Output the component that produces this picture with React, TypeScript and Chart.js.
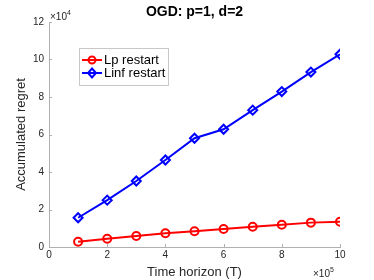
import React, { useEffect, useRef } from "react";
import { Chart, registerables } from "chart.js";

Chart.register(...registerables);

const horizons = [100000, 200000, 300000, 400000, 500000, 600000, 700000, 800000, 900000, 1000000];
const lpRestart = [2800, 4400, 5900, 7300, 8400, 9600, 10800, 11900, 13000, 13500];
const linfRestart = [15600, 25000, 35200, 46400, 58000, 62800, 73000, 82900, 93300, 102800];
const titleText = "OGD: p=1, d=2";
const xTitle = "Time horizon (T)";
const yTitle = "Accumulated regret";
const seriesNames = ["Lp restart", "Linf restart"];

const FONT = "'Liberation Sans', Arial, Helvetica, sans-serif";
const TEXT = "#262626";
const AXIS = "#b0b0b0";

const decorPlugin = {
  id: "decor",
  afterDraw(chart: any) {
    const ctx = chart.ctx;
    const area = chart.chartArea;
    const xs = chart.scales.x;
    const ys = chart.scales.y;
    ctx.save();
    // inward ticks
    ctx.strokeStyle = AXIS;
    ctx.lineWidth = 1;
    ctx.beginPath();
    xs.ticks.forEach((t: any) => {
      const px = Math.round(xs.getPixelForValue(t.value)) + 0.5;
      ctx.moveTo(px, area.bottom);
      ctx.lineTo(px, area.bottom - 3);
    });
    ys.ticks.forEach((t: any) => {
      const py = Math.round(ys.getPixelForValue(t.value)) + 0.5;
      ctx.moveTo(area.left, py);
      ctx.lineTo(area.left + 3, py);
    });
    ctx.stroke();

    // title
    ctx.fillStyle = "#000";
    ctx.font = `bold 14px ${FONT}`;
    ctx.textAlign = "center";
    ctx.textBaseline = "middle";
    ctx.fillText(titleText, (area.left + area.right) / 2, 12);

    // exponents
    ctx.fillStyle = TEXT;
    ctx.textAlign = "left";
    ctx.textBaseline = "alphabetic";
    ctx.font = `10px ${FONT}`;
    ctx.fillText("\u00d710", area.left + 1, 20);
    let w = ctx.measureText("\u00d710").width;
    ctx.font = `7px ${FONT}`;
    ctx.fillText("4", area.left + 1 + w, 15);
    ctx.font = `10px ${FONT}`;
    const ex = area.right - 27;
    ctx.fillText("\u00d710", ex, 277);
    w = ctx.measureText("\u00d710").width;
    ctx.font = `7px ${FONT}`;
    ctx.fillText("5", ex + w, 272);

    // legend
    const bx = 79.5, by = 48.5, bw = 89, bh = 37;
    ctx.fillStyle = "#fff";
    ctx.fillRect(bx, by, bw, bh);
    ctx.strokeStyle = "#c8c8c8";
    ctx.lineWidth = 1;
    ctx.strokeRect(bx, by, bw, bh);
    const colors = ["#ff0000", "#0000ff"];
    const rows = [60, 73];
    rows.forEach((ry, i) => {
      ctx.strokeStyle = colors[i];
      ctx.lineWidth = 2;
      ctx.beginPath();
      ctx.moveTo(82, ry);
      ctx.lineTo(102, ry);
      ctx.stroke();
      ctx.beginPath();
      if (i === 0) {
        ctx.arc(92, ry, 3.5, 0, Math.PI * 2);
      } else {
        ctx.moveTo(92, ry - 4.5);
        ctx.lineTo(96, ry);
        ctx.lineTo(92, ry + 4.5);
        ctx.lineTo(88, ry);
        ctx.closePath();
      }
      ctx.stroke();
      ctx.fillStyle = "#000";
      ctx.font = `13px ${FONT}`;
      ctx.textBaseline = "middle";
      ctx.textAlign = "left";
      ctx.fillText(seriesNames[i], 104, ry + 0.5);
    });
    ctx.restore();
  },
};

export default function App() {
  const ref = useRef<HTMLCanvasElement>(null);
  useEffect(() => {
    if (!ref.current) return;
    const chart = new Chart(ref.current, {
      type: "line",
      data: {
        labels: horizons,
        datasets: [
          {
            label: seriesNames[0],
            data: horizons.map((x, i) => ({ x, y: lpRestart[i] })),
            borderColor: "#ff0000",
            backgroundColor: "rgba(0,0,0,0)",
            borderWidth: 2,
            pointStyle: "circle",
            pointRadius: 4,
            pointBorderWidth: 2,
            pointBorderColor: "#ff0000",
            pointBackgroundColor: "rgba(0,0,0,0)",
          },
          {
            label: seriesNames[1],
            data: horizons.map((x, i) => ({ x, y: linfRestart[i] })),
            borderColor: "#0000ff",
            backgroundColor: "rgba(0,0,0,0)",
            borderWidth: 2,
            pointStyle: "rectRot",
            pointRadius: 4.5,
            pointBorderWidth: 2,
            pointBorderColor: "#0000ff",
            pointBackgroundColor: "rgba(0,0,0,0)",
          },
        ],
      },
      options: {
        animation: false,
        responsive: false,
        maintainAspectRatio: false,
        layout: { padding: { left: 0, right: 34, top: 22, bottom: 0 } },
        plugins: { legend: { display: false }, title: { display: false }, tooltip: { enabled: false } },
        scales: {
          x: {
            type: "linear",
            min: 0,
            max: 1000000,
            afterFit: (s: any) => { s.height = 33; },
            ticks: {
              stepSize: 200000,
              color: TEXT,
              font: { family: FONT, size: 10 },
              padding: 2,
              maxRotation: 0,
              callback: (v: any) => String(Number(v) / 100000),
            },
            grid: { display: true, drawOnChartArea: false, drawTicks: false, color: AXIS },
            border: { color: AXIS },
            title: {
              display: true,
              text: xTitle,
              color: TEXT,
              font: { family: FONT, size: 13 },
              padding: { top: 0, bottom: 0 },
            },
          },
          y: {
            type: "linear",
            min: 0,
            max: 120000,
            afterFit: (s: any) => { s.width = 49; },
            ticks: {
              stepSize: 20000,
              color: TEXT,
              font: { family: FONT, size: 10 },
              padding: 5,
              callback: (v: any) => String(Number(v) / 10000),
            },
            grid: { display: true, drawOnChartArea: false, drawTicks: false, color: AXIS },
            border: { color: AXIS },
            title: {
              display: true,
              text: yTitle,
              color: TEXT,
              font: { family: FONT, size: 13 },
              padding: { top: 14, bottom: 0 },
            },
          },
        },
      },
      plugins: [decorPlugin],
    });
    return () => chart.destroy();
  }, []);
  return (
    <div style={{ position: "fixed", left: 0, top: 0, width: 374, height: 280, background: "#fff" }}>
      <canvas ref={ref} width={374} height={280} style={{ width: 374, height: 280, display: "block" }} />
    </div>
  );
}
